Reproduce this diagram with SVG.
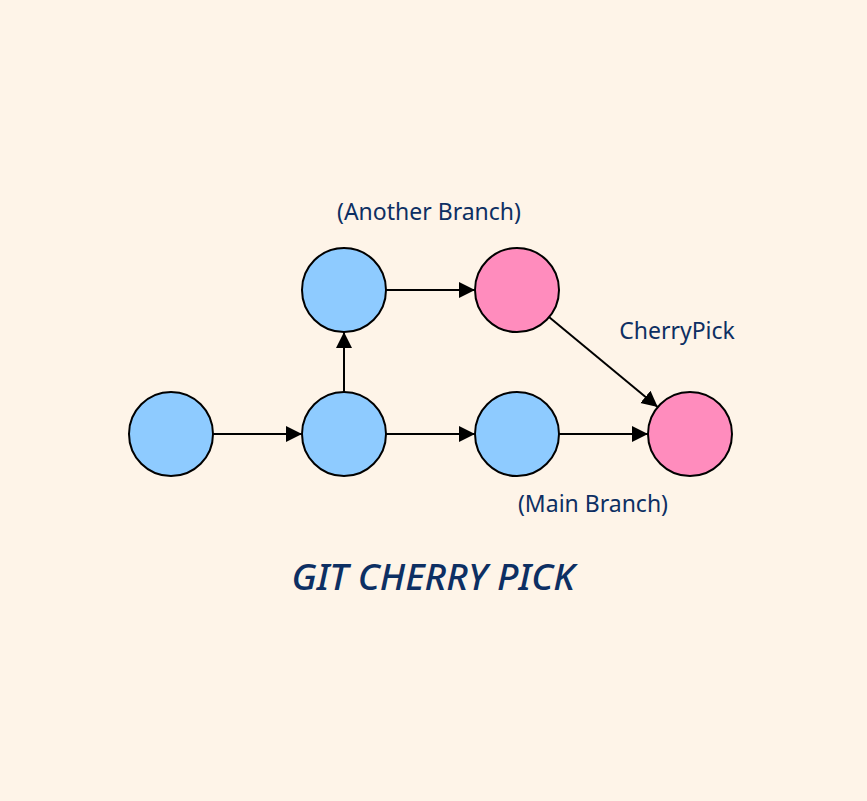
<svg xmlns="http://www.w3.org/2000/svg" width="867" height="801" viewBox="0 0 867 801">
<style>
.n{stroke:#000;stroke-width:2}
.b{fill:#8ecbff}
.p{fill:#ff8cbd}
.e{stroke:#000;stroke-width:2;fill:none;marker-end:url(#ah)}
.t{font-family:"Noto Sans",sans-serif;font-size:23px;fill:#0d2f63}
.h{font-family:"Noto Sans",sans-serif;font-size:37px;font-weight:500;font-style:italic;fill:#0d2f63}
</style>
<defs>
<marker id="ah" markerWidth="18" markerHeight="18" refX="16" refY="8" orient="auto" markerUnits="userSpaceOnUse">
<path d="M0,0 L16,8 L0,16 Z" fill="#000"/>
</marker>
</defs>
<rect width="867" height="801" fill="#fef4e8"/>
<g id="edges">
<line class="e" x1="213" y1="434" x2="302" y2="434"/>
<line class="e" x1="344" y1="392" x2="344" y2="332"/>
<line class="e" x1="386" y1="290" x2="475" y2="290"/>
<line class="e" x1="386" y1="434" x2="475" y2="434"/>
<line class="e" x1="559" y1="434" x2="648" y2="434"/>
<line class="e" x1="549" y1="317" x2="657.7" y2="407.1"/>
</g>
<g id="c1"><circle class="n b" cx="171" cy="434" r="42"/></g>
<g id="c2"><circle class="n b" cx="344" cy="434" r="42"/></g>
<g id="c3"><circle class="n b" cx="344" cy="290" r="42"/></g>
<g id="c4"><circle class="n p" cx="517" cy="290" r="42"/></g>
<g id="c5"><circle class="n b" cx="517" cy="434" r="42"/></g>
<g id="c6"><circle class="n p" cx="690" cy="434" r="42"/></g>
<g id="labels">
<text class="t" x="429" y="220" text-anchor="middle">(Another Branch)</text>
<text class="t" x="677" y="339" text-anchor="middle">CherryPick</text>
<text class="t" x="593" y="512" text-anchor="middle">(Main Branch)</text>
<text class="h" x="433" y="590" text-anchor="middle">GIT CHERRY PICK</text>
</g>
</svg>
